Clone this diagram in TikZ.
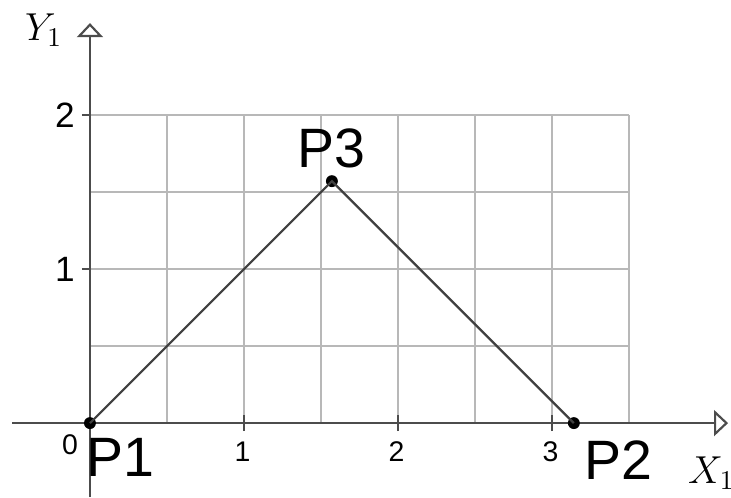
\documentclass[tikz,border=0pt]{standalone}
\usepackage{fontspec}
\setmainfont{Liberation Sans}
\usetikzlibrary{calc, positioning}
\usetikzlibrary{arrows.meta}

\tikzset{
  axisline/.style={line width=0.9pt, draw=black!70, -{Triangle[open, length=5.2pt, width=9.6pt, line width=0.8pt]}},
  gridline/.style={line width=0.55pt, draw=black!28},
  tickmark/.style={line width=0.8pt, draw=black!70},
  side/.style={line width=0.8pt, draw=black!75},
  dot/.style={circle, fill=black, inner sep=0pt, minimum size=4.4pt},
  ptlabel/.style={font=\fontsize{20.5}{24}\selectfont, inner sep=0pt},
  xnum/.style={font=\fontsize{10.5}{12}\selectfont, inner sep=0pt},
  ynum/.style={font=\fontsize{13}{15}\selectfont, inner sep=0pt},
  axlabel/.style={font=\fontsize{14.5}{17}\selectfont, inner sep=0pt}
}

\begin{document}
\begin{tikzpicture}[x=2cm, y=2cm]
\def\xP{3.1416}
\def\yP{1.5708}
\def\tk{0.052}

\useasboundingbox (-0.584,-0.481) rectangle (4.162,2.747);

\coordinate (O) at (0,0);
\coordinate (xs) at (-0.506,0);
\coordinate (xe) at (4.143,0);
\coordinate (ys) at (0,-0.481);
\coordinate (ye) at (0,2.597);

% grid
\draw[gridline, step=0.5] (0,0) grid (3.5,2);

% ticks
\foreach \i in {1,2,3} {
  \draw[tickmark] (\i,-\tk) -- (\i,\tk);
  \node[xnum] (xn\i) at (\i-0.01,-0.185) {\i};
}
\foreach \j in {1,2} {
  \draw[tickmark] (-\tk,\j) -- (0,\j);
  \node[ynum] (yn\j) at (-0.162,\j) {\j};
}
\node[xnum] (xn0) at (-0.13,-0.143) {0};

% axes
\draw[axisline] (xs) -- (xe);
\draw[axisline] (ys) -- (ye);
\node[axlabel] (xl) at (4.035,-0.325) {$X_1$};
\node[axlabel] (yl) at (-0.3,2.552) {$Y_1$};

% triangle
\node[dot] (P1) at (0,0) {};
\node[dot] (P2) at (\xP,0) {};
\node[dot] (P3) at (\yP,\yP) {};
\draw[side] (P1.center) -- (P3.center) -- (P2.center);

\node[ptlabel] (l1) at ($(P1)+(0.195,-0.221)$) {P1};
\node[ptlabel] (l2) at ($(P2)+(0.29,-0.24)$) {P2};
\node[ptlabel] (l3) at ($(P3)+(0,0.215)$) {P3};
\end{tikzpicture}
\end{document}
